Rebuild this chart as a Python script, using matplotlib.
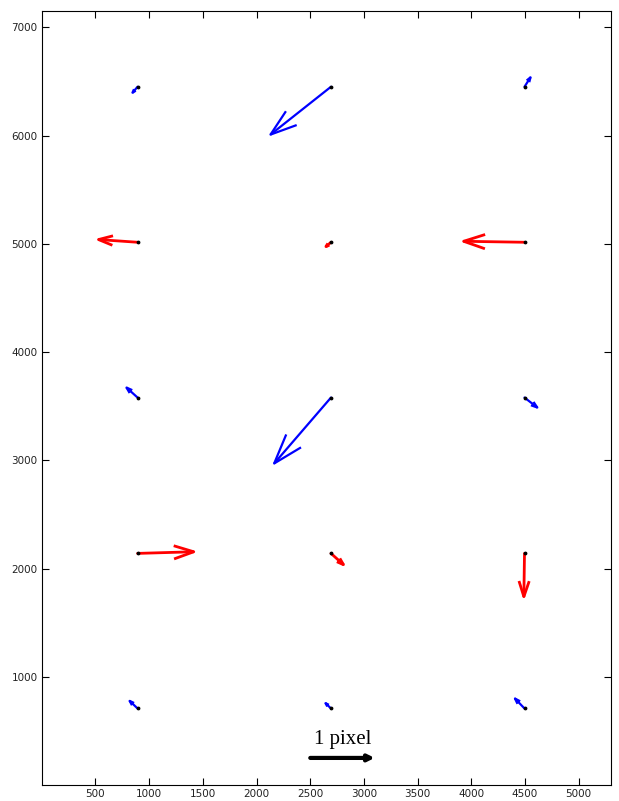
"""Quiver-style displacement plot (MATLAB look)."""

import numpy as np
import matplotlib
matplotlib.use('Agg')
import matplotlib.pyplot as plt

# Grid of arrow origins (data units)
col_x = [892, 2693, 4495]
row_y = [6452, 5015, 3580, 2140, 707]
row_colors = ['blue', 'red', 'blue', 'red', 'blue']

# Displacement vectors per row (u, v), left to right
u_vals = [
    [-47, -563, 56],
    [-364, -47, -567],
    [-103, -529, 119],
    [523, 116, -6],
    [-74, -51, -89],
]
v_vals = [
    [-55, -442, 87],
    [25, -40, 9],
    [92, -609, -92],
    [15, -104, -400],
    [70, 49, 92],
]

# Scale arrow
scale_start = (2500, 250)
scale_len = 600
scale_label = '1 pixel'

alpha, beta = 0.33, 0.33

fig = plt.figure(figsize=(6.19, 8.01), dpi=100)
ax = fig.add_axes([0.0675, 0.02, 0.9195, 0.966])

for r, y in enumerate(row_y):
    color = row_colors[r]
    lw = 1.6 if color == 'blue' else 2.0
    for c, x in enumerate(col_x):
        uu = u_vals[r][c]
        vv = v_vals[r][c]
        tx, ty = x + uu, y + vv
        # shaft
        ax.plot([x, tx], [y, ty], color=color, lw=lw, solid_capstyle='round')
        # open arrow head (MATLAB quiver style)
        hx = [tx - alpha * (uu + beta * vv), tx, tx - alpha * (uu - beta * vv)]
        hy = [ty - alpha * (vv - beta * uu), ty, ty - alpha * (vv + beta * uu)]
        ax.plot(hx, hy, color=color, lw=lw, solid_joinstyle='miter')
        ax.plot(x, y, marker='.', color='black', markersize=3.5)

# scale bar
ax.annotate('', xy=(scale_start[0] + scale_len, scale_start[1]), xytext=scale_start,
            arrowprops=dict(arrowstyle='-|>', lw=3, color='black', mutation_scale=9,
                            shrinkA=0, shrinkB=0))
ax.text(scale_start[0] + scale_len / 2, scale_start[1] + 80, scale_label,
        ha='center', va='bottom', fontsize=15, family='Liberation Serif')

ax.set_xlim(0, 5300)
ax.set_ylim(0, 7150)
ax.set_xticks(np.arange(500, 5001, 500))
ax.set_yticks(np.arange(1000, 7001, 1000))
ax.tick_params(direction='in', top=True, right=True, length=5, width=0.8,
               labelsize=7.5, labelcolor='#222222', pad=3)
for s in ax.spines.values():
    s.set_linewidth(0.8)

plt.savefig('out.png', dpi=100)
